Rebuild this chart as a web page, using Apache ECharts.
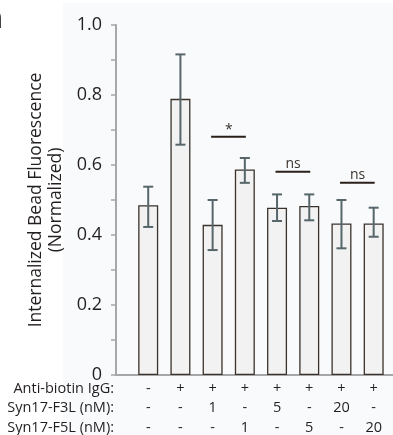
<!DOCTYPE html>
<html>
<head>
<meta charset="utf-8">
<script src="https://cdn.jsdelivr.net/npm/echarts@6/dist/echarts.min.js"></script>
<style>
html,body{margin:0;padding:0;background:#fff;}
#chart{width:393px;height:435px;}
</style>
</head>
<body>
<div id="chart"></div>
<script>
// ---- data ----
var positions = [1, 2, 3, 4, 5, 6, 7, 8];
var means = [0.485, 0.789, 0.429, 0.587, 0.478, 0.483, 0.433, 0.433];
var errLow = [0.423, 0.658, 0.357, 0.549, 0.440, 0.442, 0.362, 0.395];
var errHigh = [0.538, 0.916, 0.500, 0.620, 0.516, 0.516, 0.500, 0.478];
var rowAntiBiotin = ['-', '+', '+', '+', '+', '+', '+', '+'];
var rowF3L = ['-', '-', '1', '-', '5', '-', '20', '-'];
var rowF5L = ['-', '-', '-', '1', '-', '5', '-', '20'];
var rowHeaders = ['Anti-biotin IgG:', 'Syn17-F3L (nM):', 'Syn17-F5L (nM):'];
var sigFrom = [3, 5, 7];
var sigTo = [4, 6, 8];
var sigLevel = [0.681, 0.581, 0.549];
var sigText = ['*', 'ns', 'ns'];
var yTicks = [0, 0.2, 0.4, 0.6, 0.8, 1.0];
var yName = 'Internalized Bead Fluorescence\n(Normalized)';

var FONT = '"Open Sans", "Noto Sans", sans-serif';
var chart = echarts.init(document.getElementById('chart'));

var barData = positions.map(function (p, i) { return [p, means[i]]; });
var errData = positions.map(function (p, i) { return [p, errLow[i], errHigh[i]]; });
var sigData = sigFrom.map(function (f, i) { return [f, sigTo[i], sigLevel[i], sigText[i]]; });

function isInt(v) { return Math.abs(v - Math.round(v)) < 1e-6; }

var option = {
  animation: false,
  backgroundColor: '#ffffff',
  graphic: [
    { type: 'rect', left: 63, top: 3, shape: { width: 330, height: 432 }, style: { fill: '#f8fafc' }, z: -10 },
    { type: 'text', left: -15, top: 4, style: { text: 'a', font: 'bold 30px "Open Sans", sans-serif', fill: '#231f20' } }
  ],
  grid: { left: 116, right: 0, top: 25, bottom: 60, containLabel: false, outerBoundsMode: 'none' },
  xAxis: [{
    type: 'value',
    min: 0, max: 8.6, interval: 1,
    splitLine: { show: false },
    axisTick: { show: false },
    axisLine: { show: true, lineStyle: { color: '#a7a7a9', width: 2 } },
    axisLabel: {
      margin: 4,
      fontFamily: FONT, fontSize: 14.5, color: '#231f20', lineHeight: 19.5,
      formatter: function (v) {
        if (!isInt(v) || v < 1 || v > 8) return '';
        var i = Math.round(v) - 1;
        return rowAntiBiotin[i] + '\n' + rowF3L[i] + '\n' + rowF5L[i];
      }
    }
  }, {
    type: 'value', position: 'bottom',
    min: 0, max: 8.6, interval: 1,
    splitLine: { show: false }, axisTick: { show: false }, axisLine: { show: false },
    axisLabel: {
      margin: 4, align: 'right', padding: [0, 2, 0, 0],
      fontFamily: FONT, fontSize: 14.5, color: '#231f20', lineHeight: 19.5,
      formatter: function (v) { return v === 0 ? rowHeaders.join('\n') : ''; }
    }
  }],
  yAxis: {
    type: 'value', min: 0, max: 1, interval: 0.1,
    name: yName, nameLocation: 'middle', nameGap: 48, nameRotate: 90,
    nameTextStyle: { fontFamily: FONT, fontSize: 17.5, color: '#231f20', lineHeight: 20 },
    splitLine: { show: false },
    axisLine: { show: true, lineStyle: { color: '#a7a7a9', width: 2 } },
    axisTick: { show: true, inside: false, length: 5, lineStyle: { color: '#a7a7a9', width: 1.5 } },
    axisLabel: {
      margin: 14, fontFamily: FONT, fontSize: 18, color: '#231f20',
      formatter: function (v) {
        for (var k = 0; k < yTicks.length; k++) {
          if (Math.abs(v - yTicks[k]) < 1e-6) return v === 0 ? '0' : yTicks[k].toFixed(1);
        }
        return '';
      }
    }
  },
  series: [{
    type: 'bar', xAxisIndex: 0, data: barData, barWidth: 20,
    itemStyle: { color: '#f1f2f1', borderColor: '#3b322c', borderWidth: 1.3 },
    z: 2
  }, {
    type: 'custom', xAxisIndex: 0, data: errData, z: 5,
    renderItem: function (params, api) {
      var x = api.value(0);
      var lo = api.coord([x, api.value(1)]);
      var hi = api.coord([x, api.value(2)]);
      var hw = 5;
      var st = { stroke: '#56666b', lineWidth: 2 };
      return { type: 'group', children: [
        { type: 'line', shape: { x1: lo[0], y1: lo[1], x2: hi[0], y2: hi[1] }, style: st },
        { type: 'line', shape: { x1: lo[0] - hw, y1: lo[1], x2: lo[0] + hw, y2: lo[1] }, style: st },
        { type: 'line', shape: { x1: hi[0] - hw, y1: hi[1], x2: hi[0] + hw, y2: hi[1] }, style: st }
      ]};
    }
  }, {
    type: 'custom', xAxisIndex: 0, data: sigData, z: 5,
    renderItem: function (params, api) {
      var a = api.coord([api.value(0), api.value(2)]);
      var b = api.coord([api.value(1), api.value(2)]);
      var txt = sigText[params.dataIndex];
      return { type: 'group', children: [
        { type: 'line', shape: { x1: a[0] - 1.5, y1: a[1], x2: b[0] + 1, y2: b[1] }, style: { stroke: '#2b1f1a', lineWidth: 2 } },
        { type: 'text', x: (a[0] + b[0]) / 2, y: a[1] - (txt === '*' ? 0 : 1),
          style: { text: txt, fill: '#3b322c', font: '14px ' + FONT, align: 'center', verticalAlign: 'bottom' } }
      ]};
    }
  }]
};
chart.setOption(option);
</script>
</body>
</html>
